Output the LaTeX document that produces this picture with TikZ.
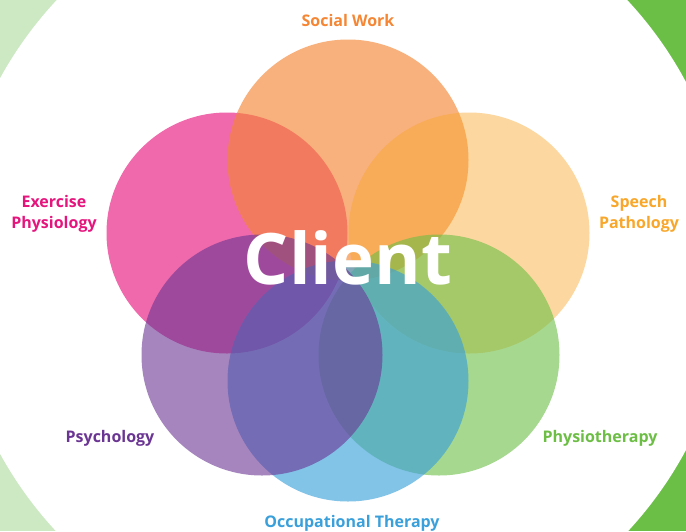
\documentclass[tikz,border=0pt]{standalone}
\usepackage{fontspec}
\setmainfont{Open Sans}
\usepackage{tikz}

\definecolor{socialcol}{HTML}{F58634}
\definecolor{speechcol}{HTML}{F9A72B}
\definecolor{exercisecol}{HTML}{E6157E}
\definecolor{psychcol}{HTML}{6B3594}
\definecolor{occcol}{HTML}{3AA0DB}
\definecolor{physiocol}{HTML}{6CBE45}
\definecolor{paleleaf}{HTML}{CDE9C3}
\definecolor{brightleaf}{HTML}{6BBF47}

\begin{document}
\begin{tikzpicture}[x=1pt,y=-1pt,
  every node/.append style={font=\bfseries\fontsize{16}{21}\selectfont, align=center},
  petal/.style={circle, minimum size=241pt, inner sep=0pt, fill=#1, fill opacity=0.64},
  tag/.style={text=#1, anchor=base}]
% background
\useasboundingbox (0,0) rectangle (686,531);
\begin{scope}
  \clip (0,0) rectangle (686,531);
  \fill[paleleaf] (0,0) rectangle (343,531);
  \fill[brightleaf] (343,0) rectangle (686,531);
  \fill[white] (342,266) circle (390);
\end{scope}
% circles
\node[petal=exercisecol] (exercise) at (227,233) {};
\node[petal=socialcol] (social) at (348,160) {};
\node[petal=speechcol, fill opacity=0.45] (speech) at (469,233) {};
\node[petal=physiocol, fill opacity=0.6] (physio) at (439,355) {};
\node[petal=occcol, fill opacity=0.63] (occ) at (348,381) {};
\node[petal=psychcol, fill opacity=0.6] (psych) at (262,355) {};
% centre
\node[text=white, anchor=base, font=\bfseries\fontsize{71}{71}\selectfont] (client) at (348,284) {Client};
% labels
\node[tag=socialcol] (socialtag) at (348,26) {Social Work};
\node[tag=exercisecol] (exercisetag) at (54,228) {Exercise\\Physiology};
\node[tag=speechcol] (speechtag) at (639,228) {Speech\\Pathology};
\node[tag=psychcol] (psychtag) at (110,442) {Psychology};
\node[tag=physiocol] (physiotag) at (600,442) {Physiotherapy};
\node[tag=occcol] (occtag) at (352,527) {Occupational Therapy};
\end{tikzpicture}
\end{document}
